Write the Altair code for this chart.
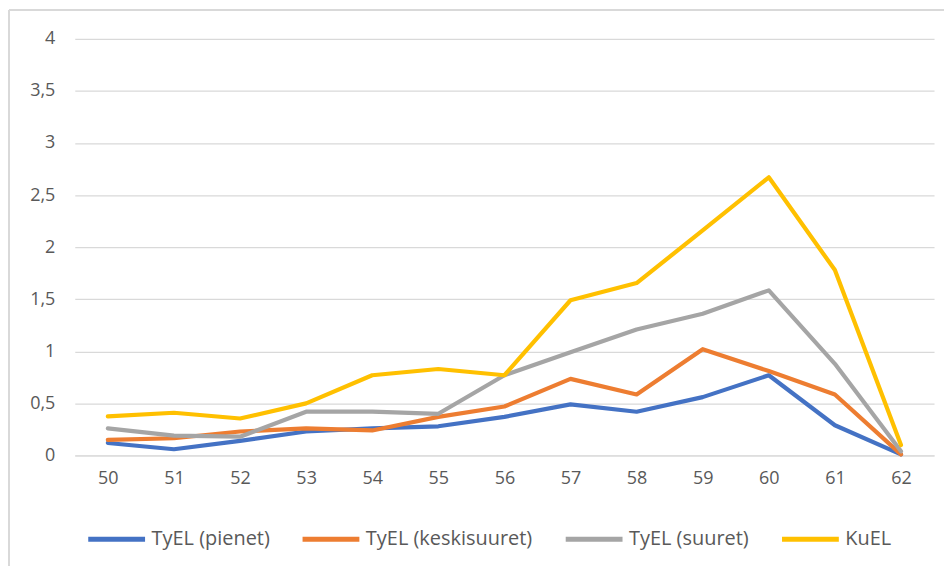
import altair as alt
import pandas as pd

ages = [50, 51, 52, 53, 54, 55, 56, 57, 58, 59, 60, 61, 62]
series_names = ["TyEL (pienet)", "TyEL (keskisuuret)", "TyEL (suuret)", "KuEL"]
tyel_pienet = [0.12, 0.06, 0.14, 0.23, 0.26, 0.28, 0.37, 0.49, 0.42, 0.56, 0.77, 0.29, 0.01]
tyel_keski = [0.15, 0.165, 0.23, 0.26, 0.24, 0.37, 0.47, 0.735, 0.585, 1.02, 0.81, 0.585, 0.01]
tyel_suuret = [0.26, 0.19, 0.18, 0.42, 0.42, 0.40, 0.77, 0.99, 1.21, 1.36, 1.585, 0.88, 0.04]
kuel = [0.375, 0.41, 0.355, 0.50, 0.77, 0.83, 0.77, 1.49, 1.655, 2.16, 2.67, 1.78, 0.10]
colors = ["#4472C4", "#ED7D31", "#A5A5A5", "#FFC000"]
y_ticks = [0, 0.5, 1, 1.5, 2, 2.5, 3, 3.5, 4]

rows = []
for name, vals in zip(series_names, [tyel_pienet, tyel_keski, tyel_suuret, kuel]):
    for a, v in zip(ages, vals):
        rows.append({"ika": str(a), "sarja": name, "arvo": v})
df = pd.DataFrame(rows)

FONT = "Open Sans"
TXT = "#595959"

lines = alt.Chart(df).mark_line(strokeWidth=4.2, strokeJoin="round", strokeCap="round").encode(
    x=alt.X("ika:O", sort=[str(a) for a in ages],
            scale=alt.Scale(type="point", padding=0.5),
            axis=alt.Axis(title=None, labelAngle=0, domainColor="#d9d9d9", domainWidth=1,
                          ticks=False, labelPadding=14, labelFontSize=18, labelColor=TXT,
                          labelFont=FONT, grid=False)),
    y=alt.Y("arvo:Q", scale=alt.Scale(domain=[0, 4], nice=False),
            axis=alt.Axis(title=None, values=y_ticks, domain=False, ticks=False,
                          labelPadding=20, labelFontSize=18, labelColor=TXT, labelFont=FONT,
                          gridColor="#d9d9d9", gridWidth=1.2,
                          labelExpr="replace(toString(datum.value), '.', ',')")),
    color=alt.Color("sarja:N", scale=alt.Scale(domain=series_names, range=colors),
                    legend=alt.Legend(title=None, orient="none", legendX=11, legendY=471,
                                      direction="horizontal", symbolType="stroke",
                                      symbolSize=3249, symbolStrokeWidth=5,
                                      labelFontSize=20, labelColor=TXT, labelFont=FONT,
                                      labelLimit=0, columnPadding=22, labelOffset=4)),
    order=alt.Order("sarja:N"),
)

frame = pd.DataFrame([{"k": 1}])
left_line = alt.Chart(frame).mark_rule(color="#d9d9d9", strokeWidth=2).encode(
    x=alt.value(-66), y=alt.value(-29), y2=alt.value(570))
top_line = alt.Chart(frame).mark_rule(color="#d9d9d9", strokeWidth=2).encode(
    x=alt.value(-66), x2=alt.value(900), y=alt.value(-29))

chart = alt.layer(left_line, top_line, lines).properties(
    width=862, height=418,
    autosize=alt.AutoSizeParams(type="none"),
    padding={"left": 67, "top": 30, "right": 10, "bottom": 110},
).configure_view(stroke=None)

chart.save("out.html", embed_options={"renderer": "svg", "actions": False})
